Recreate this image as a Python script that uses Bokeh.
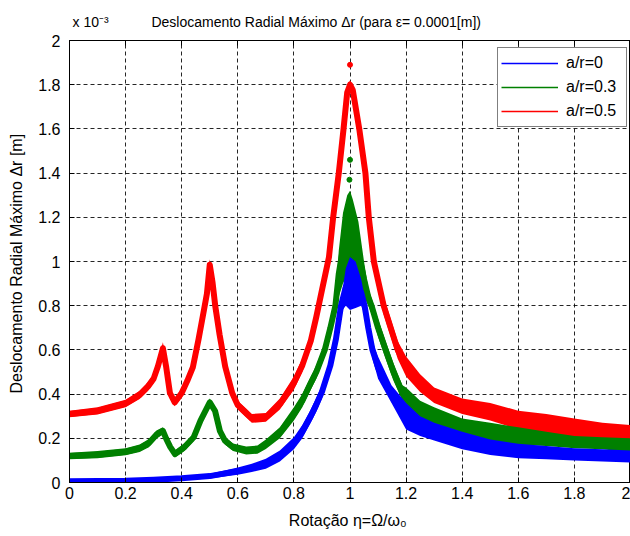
from bokeh.plotting import figure
from bokeh.models import Range1d, FixedTicker, LinearAxis, Legend, LegendItem
from bokeh.embed import file_html
from bokeh.resources import INLINE

# ---------------- data ----------------
x_ticks = [0, 0.2, 0.4, 0.6, 0.8, 1, 1.2, 1.4, 1.6, 1.8, 2]
x_tick_labels = ["0", "0.2", "0.4", "0.6", "0.8", "1", "1.2", "1.4", "1.6", "1.8", "2"]
y_ticks = [0, 0.2, 0.4, 0.6, 0.8, 1, 1.2, 1.4, 1.6, 1.8, 2]
y_tick_labels = ["0", "0.2", "0.4", "0.6", "0.8", "1", "1.2", "1.4", "1.6", "1.8", "2"]

series_names = ["a/r=0", "a/r=0.3", "a/r=0.5"]
series_colors = ["#0000ff", "#008000", "#ff0000"]

# a/r = 0 (blue): rotation eta, lower / upper edge of the point cloud (x 10^-3 m)
eta_0 = [0.00, 0.10, 0.20, 0.30, 0.40, 0.50, 0.60, 0.65, 0.70, 0.75, 0.80, 0.83, 0.86, 0.88,
         0.90, 0.93, 0.95, 0.968, 0.985, 1.00, 1.02, 1.04, 1.052, 1.065, 1.08, 1.10, 1.148,
         1.20, 1.25, 1.30, 1.40, 1.50, 1.60, 1.70, 1.80, 1.90, 2.00]
lo_0 = [0.000, 0.000, 0.001, 0.005, 0.010, 0.018, 0.035, 0.048, 0.062, 0.095, 0.150, 0.200, 0.270, 0.320,
        0.380, 0.500, 0.620, 0.770, 0.800, 0.780, 0.790, 0.800, 0.760, 0.660, 0.560, 0.470, 0.360,
        0.240, 0.210, 0.190, 0.150, 0.125, 0.110, 0.105, 0.100, 0.095, 0.090]
hi_0 = [0.012, 0.013, 0.015, 0.020, 0.028, 0.040, 0.068, 0.085, 0.108, 0.145, 0.205, 0.260, 0.330, 0.385,
        0.440, 0.560, 0.680, 0.830, 0.970, 1.020, 1.000, 0.920, 0.840, 0.740, 0.640, 0.570, 0.440,
        0.360, 0.300, 0.270, 0.230, 0.195, 0.175, 0.165, 0.155, 0.150, 0.145]

# a/r = 0.3 (green)
eta_3 = [0.00, 0.10, 0.20, 0.25, 0.283, 0.31, 0.333, 0.345, 0.359, 0.376, 0.41, 0.443, 0.467, 0.50,
         0.519, 0.536, 0.554, 0.583, 0.63, 0.67, 0.70, 0.75, 0.80, 0.83, 0.86, 0.88, 0.91, 0.93,
         0.948, 0.96, 0.975, 0.99, 1.00, 1.01, 1.03, 1.05, 1.065, 1.078, 1.10, 1.127, 1.155,
         1.187, 1.20, 1.25, 1.30, 1.40, 1.50, 1.60, 1.70, 1.80, 1.90, 2.00]
lo_3 = [0.105, 0.110, 0.123, 0.138, 0.160, 0.198, 0.218, 0.180, 0.145, 0.113, 0.143, 0.188, 0.262, 0.345,
        0.305, 0.216, 0.172, 0.142, 0.127, 0.130, 0.152, 0.200, 0.280, 0.340, 0.420, 0.470, 0.570, 0.670,
        0.770, 0.840, 0.900, 0.940, 0.950, 0.950, 0.900, 0.840, 0.800, 0.760, 0.660, 0.560, 0.460,
        0.370, 0.320, 0.280, 0.250, 0.215, 0.190, 0.170, 0.165, 0.155, 0.150, 0.135]
hi_3 = [0.135, 0.142, 0.155, 0.172, 0.197, 0.235, 0.250, 0.215, 0.178, 0.145, 0.178, 0.222, 0.298, 0.380,
        0.342, 0.252, 0.207, 0.177, 0.163, 0.167, 0.195, 0.250, 0.340, 0.400, 0.480, 0.530, 0.630, 0.730,
        0.830, 1.050, 1.220, 1.300, 1.320, 1.280, 1.180, 1.000, 0.880, 0.830, 0.740, 0.640, 0.540,
        0.440, 0.430, 0.370, 0.340, 0.290, 0.270, 0.250, 0.230, 0.210, 0.205, 0.200]

# a/r = 0.5 (red)
eta_5 = [0.00, 0.10, 0.20, 0.25, 0.28, 0.30, 0.315, 0.333, 0.345, 0.358, 0.375, 0.40, 0.42, 0.44,
         0.46, 0.48, 0.49, 0.50, 0.51, 0.52, 0.535, 0.555, 0.58, 0.60, 0.625, 0.65, 0.70, 0.75,
         0.80, 0.83, 0.86, 0.88, 0.90, 0.925, 0.94, 0.96, 0.977, 0.99, 1.00, 1.01, 1.033, 1.055,
         1.067, 1.085, 1.12, 1.17, 1.20, 1.25, 1.30, 1.40, 1.50, 1.60, 1.70, 1.80, 1.90, 2.00]
lo_5 = [0.295, 0.308, 0.340, 0.378, 0.415, 0.450, 0.500, 0.580, 0.490, 0.380, 0.345, 0.385, 0.440, 0.500,
        0.625, 0.760, 0.830, 0.960, 0.880, 0.770, 0.640, 0.500, 0.380, 0.330, 0.300, 0.270, 0.275, 0.330,
        0.420, 0.500, 0.610, 0.720, 0.840, 0.990, 1.170, 1.370, 1.570, 1.740, 1.780, 1.750, 1.570, 1.370,
        1.170, 0.970, 0.760, 0.560, 0.480, 0.410, 0.360, 0.310, 0.280, 0.240, 0.220, 0.200, 0.200, 0.190]
hi_5 = [0.325, 0.340, 0.375, 0.415, 0.455, 0.490, 0.550, 0.635, 0.550, 0.430, 0.380, 0.425, 0.480, 0.545,
        0.670, 0.810, 0.880, 1.010, 0.930, 0.820, 0.700, 0.550, 0.430, 0.370, 0.340, 0.310, 0.315, 0.380,
        0.480, 0.560, 0.670, 0.780, 0.900, 1.050, 1.230, 1.430, 1.630, 1.790, 1.820, 1.800, 1.630, 1.430,
        1.230, 1.030, 0.840, 0.640, 0.570, 0.490, 0.430, 0.380, 0.360, 0.325, 0.310, 0.290, 0.270, 0.260]

# isolated points above the peak
outlier_eta = [1.00, 1.00, 0.998]
outlier_val = [1.89, 1.46, 1.37]
outlier_series = [2, 1, 1]

multiplier_text = "x 10\u207b\u00b3"
title_text = "Deslocamento Radial Máximo \u0394r (para \u03b5= 0.0001[m])"
x_label = "Rotação  \u03b7=\u03a9/\u03c9\u2080"
y_label = "Deslocamento Radial Máximo  \u0394r [m]"

FONT = "Liberation Sans"

# ---------------- figure ----------------
# the axis multiplier and the title share one line above the axes
full_title = multiplier_text + "\u00a0" * 11 + title_text
p = figure(width=630, height=536, x_range=Range1d(0, 2), y_range=Range1d(0, 2),
           output_backend="svg", toolbar_location=None,
           min_border_left=69, min_border_right=0, min_border_top=40, min_border_bottom=54,
           title=full_title, x_axis_label=x_label, y_axis_label=y_label)
p.background_fill_color = "white"
p.border_fill_color = "white"
p.outline_line_color = "black"
p.outline_line_width = 1

p.title.text_font = FONT
p.title.text_font_size = "14px"
p.title.text_font_style = "normal"
p.title.text_color = "black"
p.title.align = "left"
p.title.offset = 3
p.title.standoff = 21

xt = dict(zip([float(t) for t in x_ticks], x_tick_labels))
yt = dict(zip([float(t) for t in y_ticks], y_tick_labels))
p.xaxis.ticker = FixedTicker(ticks=x_ticks)
p.yaxis.ticker = FixedTicker(ticks=y_ticks)
p.xaxis.major_label_overrides = xt
p.yaxis.major_label_overrides = yt
for ax in (p.xaxis, p.yaxis):
    ax.major_tick_in = 5
    ax.major_tick_out = 0
    ax.minor_tick_line_color = None
    ax.axis_line_color = "black"
    ax.major_tick_line_color = "black"
    ax.major_label_text_font = FONT
    ax.major_label_text_font_size = "16px"
    ax.major_label_text_color = "black"
    ax.axis_label_text_font = FONT
    ax.axis_label_text_font_size = "16px"
    ax.axis_label_text_font_style = "normal"
    ax.axis_label_text_color = "black"
p.xaxis.major_label_standoff = 4
p.yaxis.major_label_standoff = 9
p.xaxis.axis_label_standoff = 10
p.yaxis.axis_label_standoff = 10

top_axis = LinearAxis(ticker=FixedTicker(ticks=x_ticks), major_tick_in=5, major_tick_out=0,
                      minor_tick_line_color=None, major_label_text_font_size="0px",
                      major_label_overrides={float(t): "" for t in x_ticks},
                      major_label_standoff=0, axis_line_color="black")
p.add_layout(top_axis, "above")

for g in (p.xgrid, p.ygrid):
    g.grid_line_color = "black"
    g.grid_line_alpha = 0.85
    g.grid_line_dash = "4 3"
    g.grid_line_width = 1
p.xgrid.ticker = FixedTicker(ticks=x_ticks)
p.ygrid.ticker = FixedTicker(ticks=y_ticks)

# ---------------- data glyphs ----------------
all_series = [(eta_0, lo_0, hi_0), (eta_3, lo_3, hi_3), (eta_5, lo_5, hi_5)]
legend_renderers = {}
for i in (2, 1, 0):          # a/r=0 ends up on top, as its points do in the picture
    eta, lo, hi = all_series[i]
    c = series_colors[i]
    mid = [(a + b) / 2 for a, b in zip(lo, hi)]
    thin = p.line(eta, mid, line_color=c, line_width=1.5)
    p.varea(x=eta, y1=lo, y2=hi, fill_color=c, fill_alpha=1)
    p.line(eta, mid, line_color=c, line_width=6, line_join="round", line_cap="round")
    pts_x = [e for e, s in zip(outlier_eta, outlier_series) if s == i]
    pts_y = [v for v, s in zip(outlier_val, outlier_series) if s == i]
    if pts_x:
        p.scatter(pts_x, pts_y, size=5, color=c)
    legend_renderers[i] = thin

legend_items = [LegendItem(label=series_names[i], renderers=[legend_renderers[i]]) for i in range(3)]
legend = Legend(items=legend_items, location=(428, 355), padding=3, spacing=0, margin=0,
                glyph_width=57, glyph_height=24, label_height=24, label_width=57,
                label_standoff=8, border_line_color="black", border_line_width=1,
                background_fill_color="white", background_fill_alpha=1,
                label_text_font=FONT, label_text_font_size="16px", label_text_color="black")
p.add_layout(legend)

open("out.html", "w").write(file_html(p, INLINE))
